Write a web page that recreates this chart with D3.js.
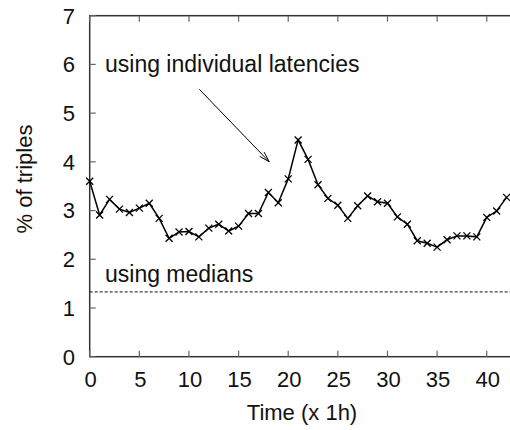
<!DOCTYPE html>
<html>
<head>
<meta charset="utf-8">
<script src="https://cdn.jsdelivr.net/npm/d3@7"></script>
<style>
  body { margin: 0; background: #fff; }
  text { font-family: "Liberation Sans", Arial, sans-serif; fill: #111; }
</style>
</head>
<body>
<div id="chart"></div>
<script>
// hourly share of triples (x 1h)
const hours = d3.range(0, 43);
const individual = [3.6, 2.91, 3.23, 3.03, 2.96, 3.05, 3.15, 2.84, 2.43, 2.56,
  2.57, 2.46, 2.64, 2.72, 2.58, 2.68, 2.94, 2.94, 3.37, 3.16,
  3.65, 4.45, 4.05, 3.53, 3.25, 3.11, 2.84, 3.10, 3.30, 3.18,
  3.15, 2.87, 2.72, 2.38, 2.33, 2.25, 2.40, 2.48, 2.48, 2.46,
  2.86, 2.99, 3.27];
const medianLevel = 1.33;
const xTicks = [0, 5, 10, 15, 20, 25, 30, 35, 40];
const yTicks = [0, 1, 2, 3, 4, 5, 6, 7];

const width = 510, height = 430;
const margin = { top: 15.7, left: 89.7 };

const svg = d3.select("#chart").append("svg")
  .attr("width", width)
  .attr("height", height);

// x: 0..43 so the right border falls just past the window edge
const x = d3.scaleLinear().domain([0, 43]).range([margin.left, margin.left + 43 * 9.926]);
const y = d3.scaleLinear().domain([0, 7]).range([356.7, margin.top]);

const frameColor = "#333";

// border
svg.append("rect")
  .attr("x", x(0)).attr("y", y(7))
  .attr("width", x(43) - x(0)).attr("height", y(0) - y(7))
  .attr("fill", "none").attr("stroke", frameColor).attr("stroke-width", 1.5);

// ticks, pointing into the plot (gnuplot style, mirrored)
const tickLen = 6;
svg.append("g").selectAll("line.xb").data(xTicks).join("line")
  .attr("x1", d => x(d)).attr("x2", d => x(d))
  .attr("y1", y(0)).attr("y2", y(0) - tickLen)
  .attr("stroke", "#666").attr("stroke-width", 1.2);
svg.append("g").selectAll("line.xt").data(xTicks).join("line")
  .attr("x1", d => x(d)).attr("x2", d => x(d))
  .attr("y1", y(7)).attr("y2", y(7) + tickLen)
  .attr("stroke", "#666").attr("stroke-width", 1.2);
svg.append("g").selectAll("line.yl").data(yTicks).join("line")
  .attr("x1", x(0)).attr("x2", x(0) + tickLen)
  .attr("y1", d => y(d)).attr("y2", d => y(d))
  .attr("stroke", "#666").attr("stroke-width", 1.2);

// tick labels
svg.append("g").selectAll("text").data(xTicks).join("text")
  .attr("x", d => x(d) + 1)
  .attr("y", 387)
  .attr("text-anchor", "middle")
  .style("font-size", "22px")
  .text(d => d);
svg.append("g").selectAll("text").data(yTicks).join("text")
  .attr("x", 75)
  .attr("y", d => y(d))
  .attr("dy", "0.36em")
  .attr("text-anchor", "end")
  .style("font-size", "22px")
  .text(d => d);

// axis titles
svg.append("text")
  .attr("x", 302).attr("y", 420)
  .attr("text-anchor", "middle")
  .style("font-size", "22px")
  .text("Time (x 1h)");
svg.append("text")
  .attr("transform", "translate(32,179) rotate(-90)")
  .attr("text-anchor", "middle")
  .style("font-size", "22px")
  .text("% of triples");

// medians dashed line
svg.append("line")
  .attr("x1", x(0)).attr("x2", width)
  .attr("y1", y(medianLevel)).attr("y2", y(medianLevel))
  .attr("stroke", "#111").attr("stroke-width", 1)
  .attr("stroke-dasharray", "3,2");

// individual latencies line
const line = d3.line().x((d, i) => x(hours[i])).y(d => y(d));
svg.append("path")
  .datum(individual)
  .attr("d", line)
  .attr("fill", "none")
  .attr("stroke", "#000")
  .attr("stroke-width", 1.5);

// x markers
const m = 3.5;
svg.append("g").selectAll("path").data(individual).join("path")
  .attr("d", (d, i) => {
    const cx = x(hours[i]), cy = y(d);
    return `M${cx - m},${cy - m}L${cx + m},${cy + m}M${cx - m},${cy + m}L${cx + m},${cy - m}`;
  })
  .attr("stroke", "#000")
  .attr("stroke-width", 1.3);

// labels and arrow
svg.append("text")
  .attr("x", x(1.54)).attr("y", y(5.85))
  .style("font-size", "23px")
  .text("using individual latencies");
svg.append("text")
  .attr("x", x(1.54)).attr("y", y(1.54))
  .style("font-size", "23px")
  .text("using medians");

const ax1 = x(11.04), ay1 = y(5.49), ax2 = x(18.09), ay2 = y(4.0);
svg.append("line")
  .attr("x1", ax1).attr("y1", ay1).attr("x2", ax2).attr("y2", ay2)
  .attr("stroke", "#000").attr("stroke-width", 1);
const ang = Math.atan2(ay2 - ay1, ax2 - ax1);
const hl = 11, ha = 0.28;
svg.append("path")
  .attr("d", `M${ax2 - hl * Math.cos(ang - ha)},${ay2 - hl * Math.sin(ang - ha)}L${ax2},${ay2}L${ax2 - hl * Math.cos(ang + ha)},${ay2 - hl * Math.sin(ang + ha)}`)
  .attr("fill", "none").attr("stroke", "#000").attr("stroke-width", 1);
</script>
</body>
</html>
